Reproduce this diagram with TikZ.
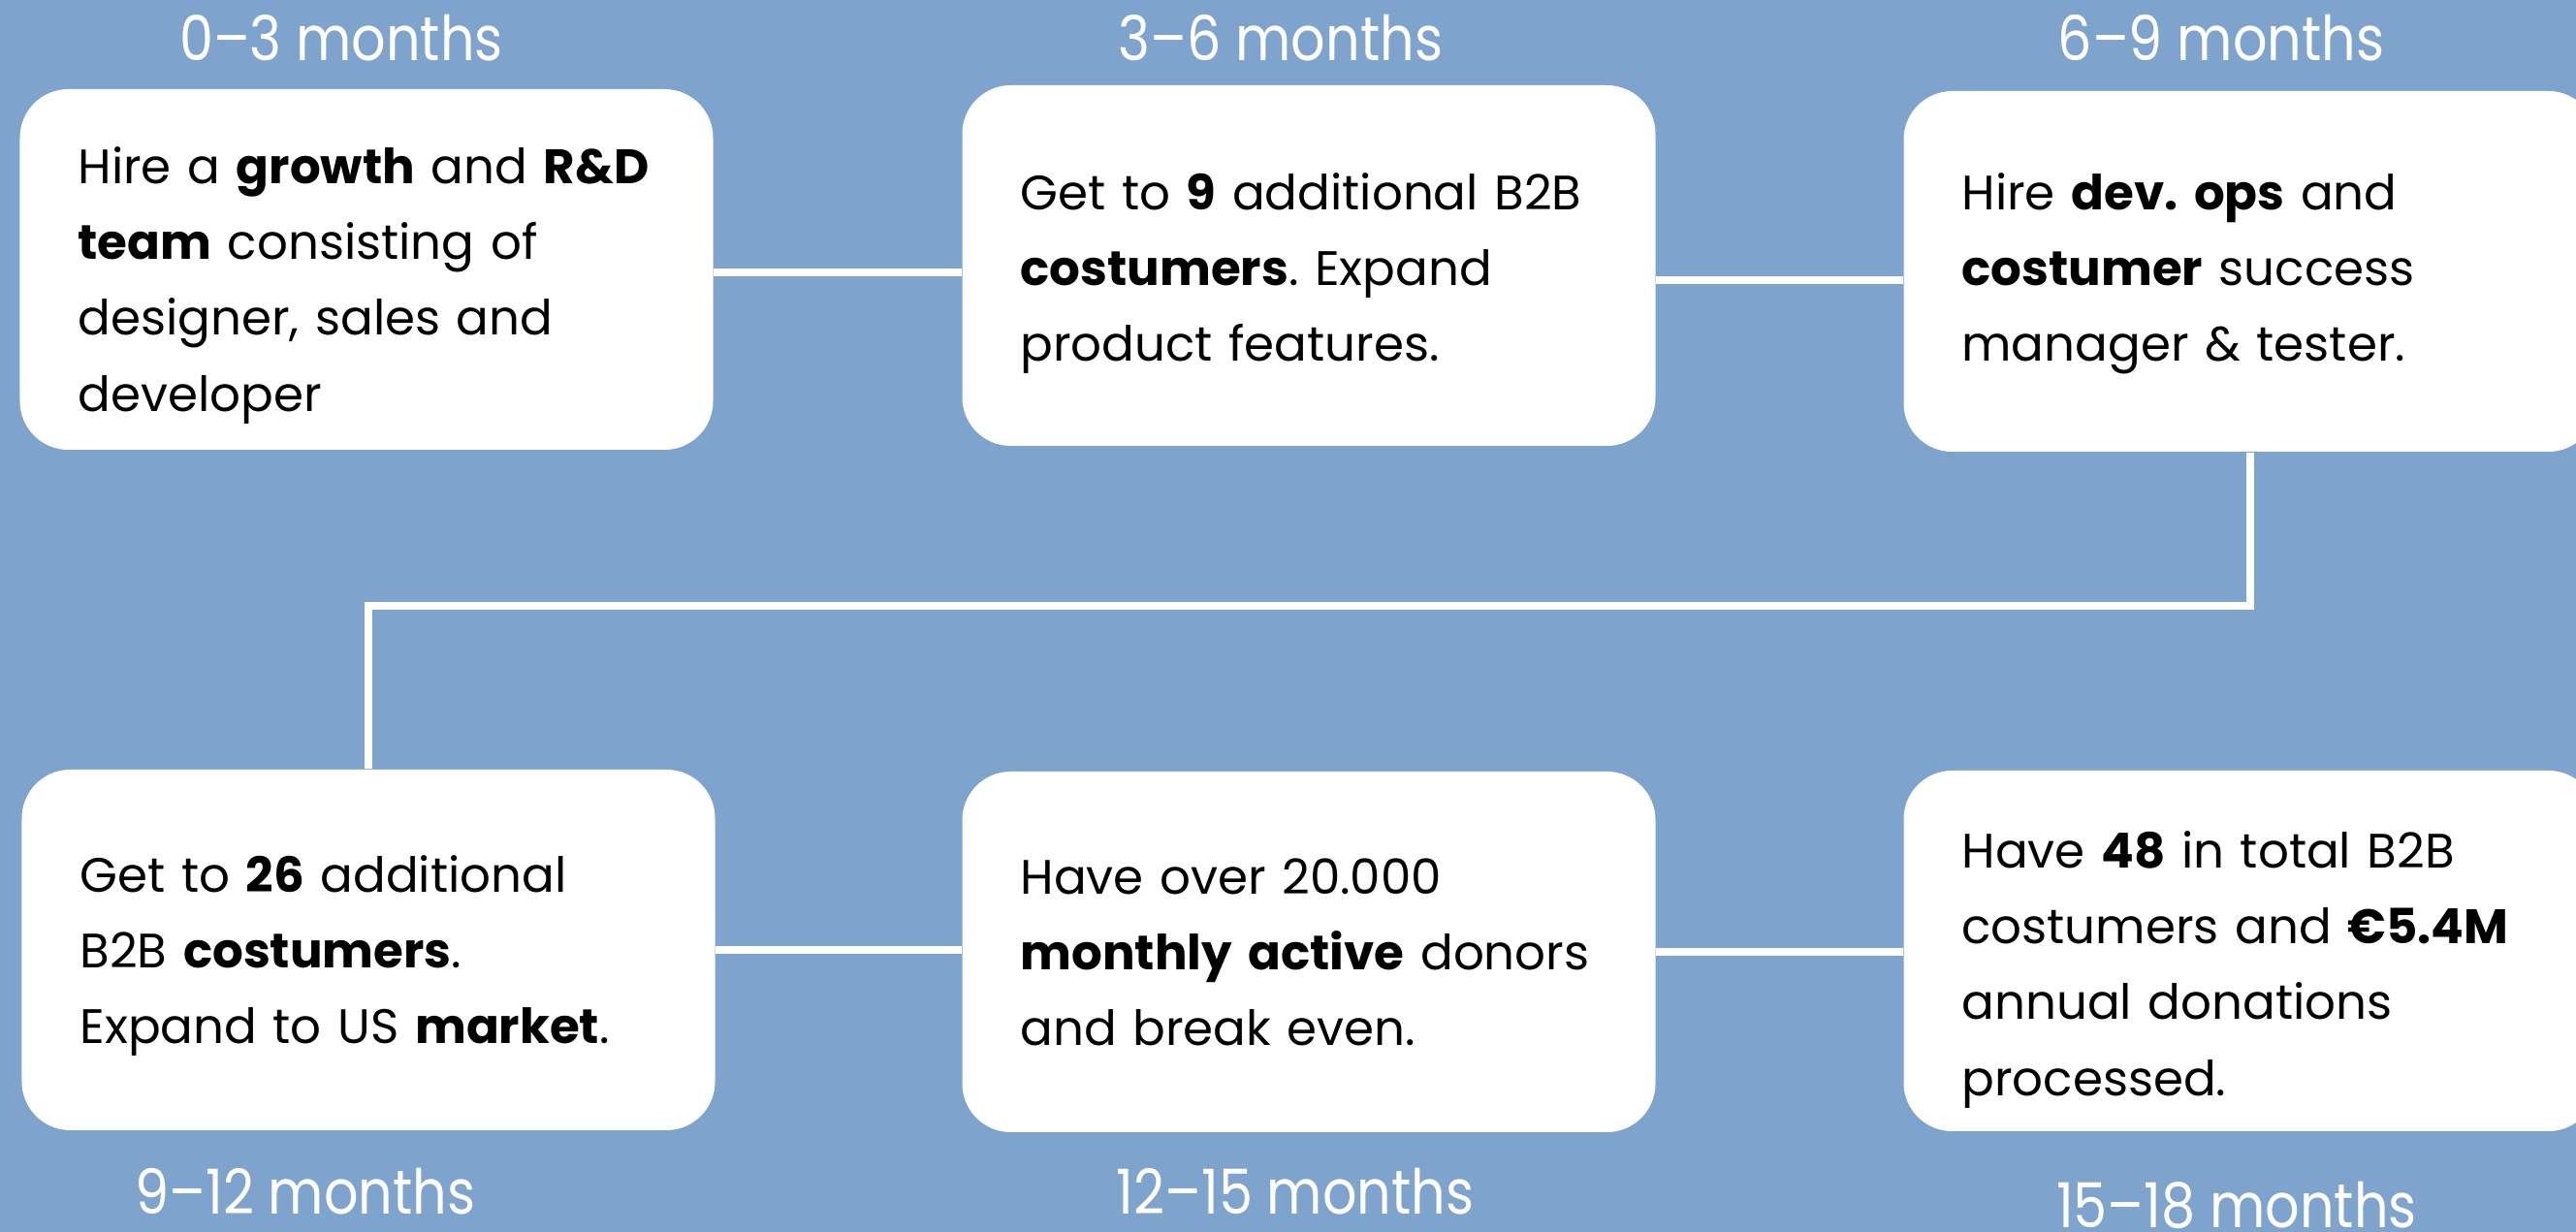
\documentclass[tikz,border=0pt]{standalone}
\usepackage{fontspec}
\setmainfont{Poppins}
\newfontfamily\periodfont[FakeStretch=0.87]{Poppins}
\definecolor{bgblue}{RGB}{126,163,205}
\frenchspacing
\begin{document}
\begin{tikzpicture}[
    card/.style={fill=white, rounded corners=0.5cm, minimum width=7.15cm, minimum height=3.72cm,
        text width=5.95cm, inner xsep=0.6cm, align=left, font=\fontsize{14.2}{22.2}\selectfont,
        execute at begin node={\rule{0pt}{\dimexpr\fontcharht\font`\d+#1\relax}}},
    card/.default={0pt},
    period/.style={text=white, inner sep=0pt, anchor=base, font=\periodfont\fontsize{18.2}{20}\selectfont},
    link/.style={white, line width=0.08cm}
]
    \fill[bgblue] (0,0) rectangle (26.57,-12.71);
    \useasboundingbox (0,0) rectangle (26.57,-12.71);

    % top row
    \node[card=0.34cm] (hire) at (3.78,-2.78) {Hire a \textbf{growth} and \textbf{R\&D}\\ \textbf{team} consisting of\\ designer, sales and\\ developer};
    \node[card=0.17cm] (nine) at (13.50,-2.74) {Get to \textbf{9} additional B2B\\ \textbf{costumers}. Expand\\ product features.};
    \node[card=0.06cm] (devops) at (23.21,-2.80) {Hire \textbf{dev. ops} and\\ \textbf{costumer} success\\ manager \& tester.};

    % bottom row
    \node[card=0.14cm] (us) at (3.80,-9.80) {Get to \textbf{26} additional\\ B2B \textbf{costumers}.\\ Expand to US \textbf{market}.};
    \node[card] (donors) at (13.50,-9.82) {Have over 20.000\\ \textbf{monthly active} donors\\ and break even.};
    \node[card=0.40cm] (total) at (23.21,-9.81) {Have \textbf{48} in total B2B\\ costumers and \textbf{€5.4M}\\ annual donations\\ processed.};

    % periods, placed on their baselines
    \node[period] (p1) at (3.52,-0.63) {0–3 months};
    \node[period] (p2) at (13.21,-0.63) {3–6 months};
    \node[period] (p3) at (22.91,-0.63) {6–9 months};
    \node[period] (p4) at (3.15,-12.53) {9–12 months};
    \node[period] (p5) at (13.36,-12.53) {12–15 months};
    \node[period] (p6) at (23.07,-12.67) {15–18 months};

    % connectors
    \coordinate (turn) at (0,-6.25);
    \draw[link] ([yshift=-0.03cm]hire.east) -- ([yshift=-0.03cm]hire.east -| nine.west);
    \draw[link] ([yshift=-0.15cm]nine.east) -- ([yshift=-0.15cm]nine.east -| devops.west);
    \draw[link] (devops.south) -- (devops.south |- turn) -- (us.north |- turn) -- (us.north);
    \draw[link] (us.east) -- (us.east -| donors.west);
    \draw[link] (donors.east) -- (donors.east -| total.west);
\end{tikzpicture}
\end{document}
